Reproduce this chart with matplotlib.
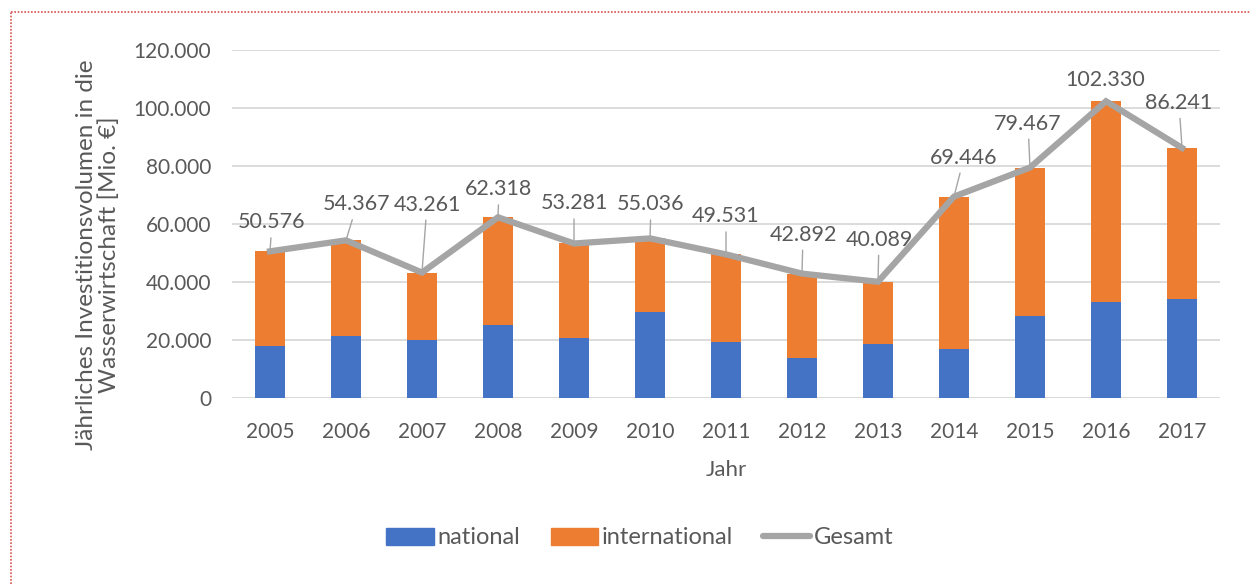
import matplotlib
matplotlib.use("Agg")
import matplotlib.pyplot as plt
from matplotlib.lines import Line2D
import numpy as np

YEARS = ["2005", "2006", "2007", "2008", "2009", "2010", "2011",
         "2012", "2013", "2014", "2015", "2016", "2017"]
GESAMT = [50576, 54367, 43261, 62318, 53281, 55036, 49531,
          42892, 40089, 69446, 79467, 102330, 86241]
NATIONAL = [18000, 21500, 20100, 25300, 20800, 29800, 19400,
            13700, 18700, 16900, 28200, 33200, 34000]
INTERNATIONAL = [g - n for g, n in zip(GESAMT, NATIONAL)]

# label offsets from the line point (pixels)
LABEL_OFF = [(2, 29), (11, 36), (5, 68), (1, 28), (0, 40), (1, 34), (0, 38),
             (1, 39), (1, 42), (10, 39), (-2, 44), (-1, 21), (-3, 45)]

BLUE = "#4472C4"
ORANGE = "#ED7D31"
GRAY = "#A5A5A5"
TXT = "#595959"

plt.rcParams["font.family"] = ["Lato", "DejaVu Sans"]

fig = plt.figure(figsize=(12.5, 5.84), dpi=100)
ax = fig.add_axes([232 / 1250, 1 - 398 / 584, (1220 - 232) / 1250, 348 / 584])

x = np.arange(len(YEARS))
w = 0.4
ax.bar(x, NATIONAL, w, color=BLUE, label="national", zorder=2)
ax.bar(x, INTERNATIONAL, w, bottom=NATIONAL, color=ORANGE, label="international", zorder=2)
ax.plot(x, GESAMT, color=GRAY, lw=4.5, label="Gesamt", zorder=3, solid_joinstyle="miter")

def fmt(v):
    return f"{v:,}".replace(",", ".")

for i, v in enumerate(GESAMT):
    dx, dy = LABEL_OFF[i]
    arrow = dict(arrowstyle="-", color=GRAY, lw=1.0, shrinkA=2, shrinkB=0) if dy > 25 else None
    ax.annotate(fmt(v), xy=(x[i], v), xytext=(dx, dy), textcoords="offset pixels",
                ha="center", va="center", fontsize=15.5, color=TXT,
                arrowprops=arrow, zorder=4)

ax.set_xlim(-0.5, len(YEARS) - 0.5)
ax.set_ylim(0, 120000)
ax.set_yticks(np.arange(0, 120001, 20000))
ax.set_yticklabels([fmt(t) for t in range(0, 120001, 20000)])
ax.set_xticks(x)
ax.set_xticklabels(YEARS)
ax.tick_params(axis="both", length=0, labelsize=15, colors=TXT)
ax.tick_params(axis="y", pad=15)
ax.tick_params(axis="x", pad=17)
ax.grid(axis="y", color="#D9D9D9", lw=1.3, zorder=0)
for s in ax.spines.values():
    s.set_visible(False)
ax.axhline(0, color="#D9D9D9", lw=1.3, zorder=1)

ax.set_xlabel("Jahr", fontsize=16, color=TXT, labelpad=13)
fig.text(98 / 1250, 1 - 255 / 584,
         "Jährliches Investitionsvolumen in die\nWasserwirtschaft [Mio. €]",
         rotation=90, ha="center", va="center", fontsize=17.5, color=TXT,
         linespacing=1.12)

handles = [
    plt.Rectangle((0, 0), 1, 1, color=BLUE),
    plt.Rectangle((0, 0), 1, 1, color=ORANGE),
    Line2D([0], [0], color=GRAY, lw=4.5, solid_capstyle="round"),
]
fig.legend(handles, ["national", "international", "Gesamt"],
           loc="center", bbox_to_anchor=(640 / 1250, 1 - 538 / 584),
           ncol=3, frameon=False, fontsize=17, labelcolor=TXT,
           handlelength=2.0, handleheight=0.7, handletextpad=0.15,
           columnspacing=1.3)

# dotted red frame (left and top edges)
fig.add_artist(Line2D([11 / 1250, 11 / 1250], [0, 1 - 12 / 584],
                      color="#D9534F", lw=1.2, ls=(0, (1, 1))))
fig.add_artist(Line2D([11 / 1250, 1], [1 - 12 / 584, 1 - 12 / 584],
                      color="#D9534F", lw=1.2, ls=(0, (1, 1))))

fig.savefig("out.png", dpi=100, facecolor="white")
